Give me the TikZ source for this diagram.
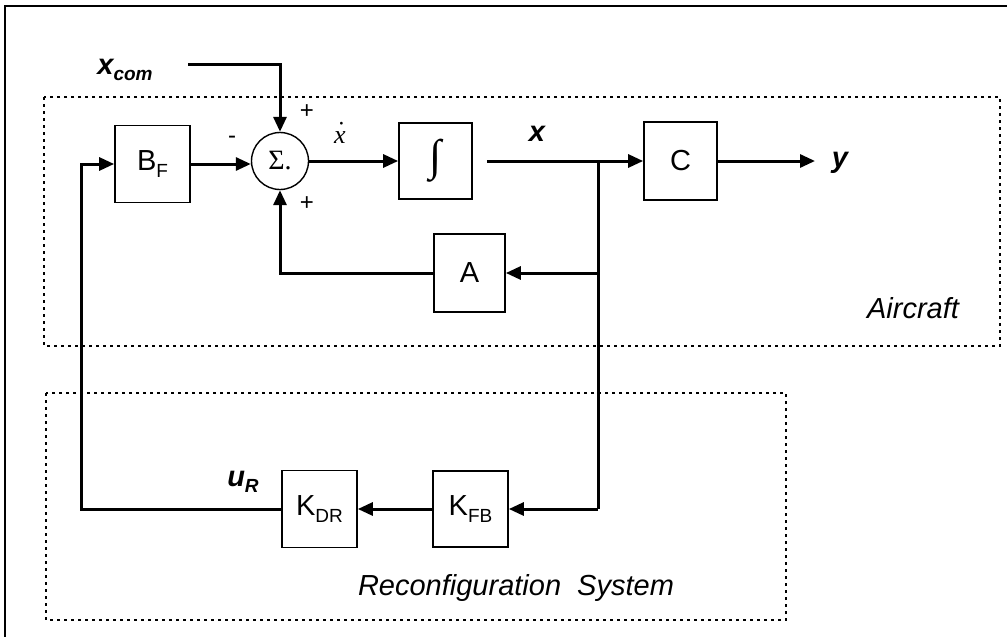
\documentclass[tikz,border=0pt]{standalone}
\usepackage{fontspec}
\setmainfont{Liberation Sans}
\newfontfamily\serifrm{Liberation Serif}
\usetikzlibrary{arrows.meta}
\newcommand\mysub[1]{\raisebox{-0.22em}{\fontsize{19}{22}\selectfont #1}}
\begin{document}
\begin{tikzpicture}[x=1pt,y=-1pt,
  blk/.style={draw, line width=1.7pt, inner sep=0pt, font=\fontsize{29}{34}\selectfont},
  sig/.style={line width=3pt, -{Triangle[length=15pt,width=13pt]}},
  wire/.style={line width=3pt},
  grp/.style={line width=2.8pt, dash pattern=on 2.8pt off 4.2pt},
  lbl/.style={font=\fontsize{29}{34}\selectfont, inner sep=0pt},
  sgn/.style={font=\fontsize{24}{28}\selectfont, inner sep=0pt},
]
\useasboundingbox (0,0) rectangle (1007,637);
% outer frame
\draw[line width=2.2pt] (1007,6) -- (5,6) -- (5,640);
% groups
\draw[grp] (44,97) rectangle (1000,346);
\draw[grp] (46,393) rectangle (786,620);
% blocks
\node[blk, minimum width=75pt, minimum height=77pt] (bf) at (152.5,164) {B\mysub{F}};
\node[draw, circle, line width=1.4pt, minimum size=57pt, inner sep=0pt] (sum) at (280,161) {\serifrm\fontsize{28}{32}\selectfont Σ.};
\node[blk, minimum width=73pt, minimum height=76pt] (int) at (435.5,161) {\serifrm\fontsize{44}{50}\selectfont ∫};
\node[blk, minimum width=73pt, minimum height=78pt] (c) at (680.5,161) {C};
\node[blk, minimum width=71pt, minimum height=78pt] (a) at (469.5,273) {A};
\node[blk, minimum width=75pt, minimum height=77pt] (kdr) at (319.5,509) {K\mysub{DR}};
\node[blk, minimum width=75pt, minimum height=76pt] (kfb) at (470.5,509) {K\mysub{FB}};
% coordinates
\coordinate (xc) at (188,64);
\coordinate (j1) at (598,161);
\coordinate (j2) at (598,273);
\coordinate (j3) at (598,509);
\coordinate (yend) at (815,161);
% connectors
\draw[sig] (xc) -| (sum.north);
\draw[sig] (bf.east) -- (sum.west |- bf.east);
\draw[sig] (sum.east) -- (int.west);
\draw[wire] ([xshift=14pt]int.east) -- (j1);
\draw[sig] (j1) -- (c.west);
\draw[sig] (c.east) -- (yend);
\draw[wire] (j1) -- (j3);
\draw[sig] (j2) -- (a.east);
\draw[sig] (a.west) -| (sum.south);
\draw[sig] (j3) -- (kfb.east);
\draw[sig] (kfb.west) -- (kdr.east);
\draw[sig] (kdr.west) -| ([xshift=-33pt]bf.west) -- (bf.west);
% labels
\node[lbl, font=\fontsize{29}{34}\selectfont\bfseries\itshape] (xcom) at (125,70) {x\mysub{com}};
\node[sgn] (p1) at (307,112) {+};
\node[sgn] (m1) at (232,140) {-};
\node[sgn] (p2) at (307,204) {+};
\node[lbl, font=\serifrm\fontsize{26}{30}\selectfont, anchor=base] (xdot) at (340,143) {\itshape x\llap{\upshape\raisebox{4pt}{˙}}};
\node[lbl, font=\fontsize{29}{34}\selectfont\bfseries\itshape] (xlab) at (537,134) {x};
\node[lbl, font=\fontsize{29}{34}\selectfont\bfseries\itshape] (ylab) at (840,163) {y};
\node[lbl, font=\fontsize{29}{34}\selectfont\bfseries\itshape] (ur) at (243,482) {u\mysub{R}};
\node[lbl, font=\fontsize{29}{34}\selectfont\itshape] (air) at (913,308) {Aircraft};
\node[lbl, font=\fontsize{29}{34}\selectfont\itshape] (rec) at (516,588) {Reconfiguration\ \ System};
\end{tikzpicture}
\end{document}
